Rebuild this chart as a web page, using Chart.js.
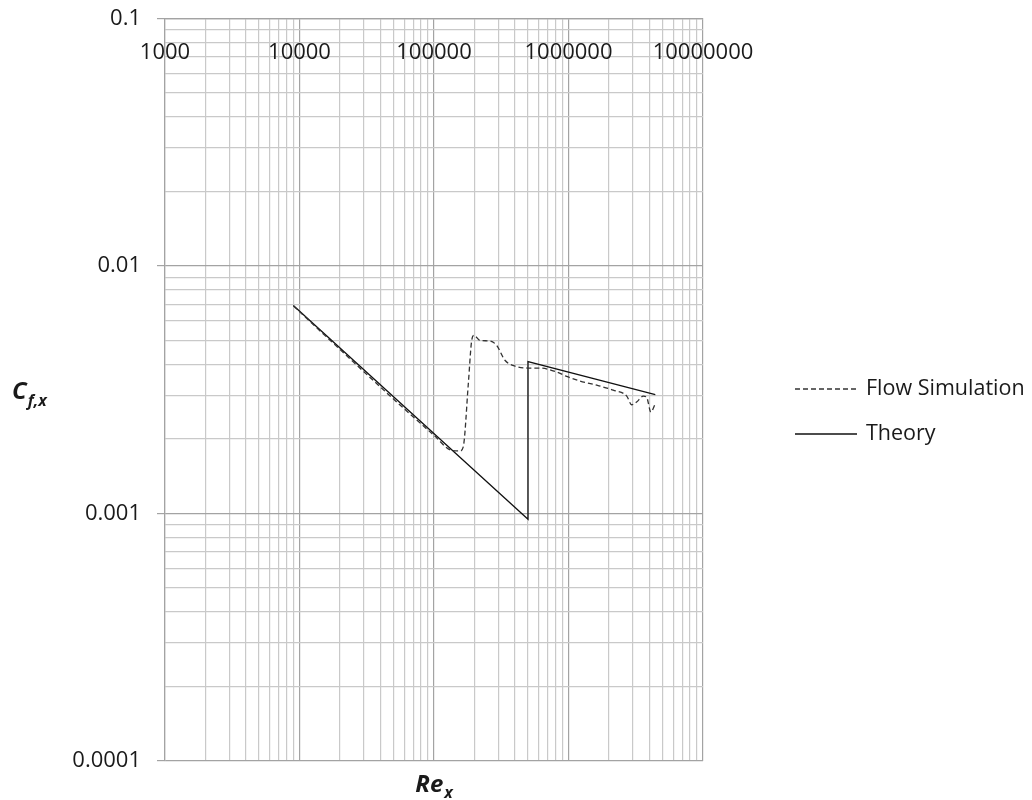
<!DOCTYPE html>
<html>
<head>
<meta charset="utf-8">
<script src="https://cdn.jsdelivr.net/npm/chart.js@4.4.1/dist/chart.umd.min.js"></script>
<style>
  html, body { margin: 0; padding: 0; background: #fff; }
  #wrap { width: 1032px; height: 800px; }
</style>
</head>
<body>
<div id="wrap"><canvas id="myChart"></canvas></div>
<script>
  // Re_x and local skin friction
  const flowRe = [9000, 20000, 50000, 100000, 135000, 156000, 165000, 180000, 190000, 198000, 220000, 260000, 292000, 337000, 400000, 500000, 614000, 817000, 970000, 1220000, 1620000, 2150000, 2710000, 2950000, 3210000, 3600000, 3810000, 4100000, 4420000];
  const flowCf = [0.0069, 0.0046, 0.00290, 0.00207, 0.00180, 0.00179, 0.00186, 0.00335, 0.00493, 0.00525, 0.00500, 0.00498, 0.00478, 0.00416, 0.00394, 0.00387, 0.00387, 0.00373, 0.00358, 0.00343, 0.00330, 0.00315, 0.00298, 0.00275, 0.00282, 0.00298, 0.00295, 0.00257, 0.00278];
  const theoryRe = [9000, 500000, 500000, 4420000];
  const theoryCf = [0.00693, 0.000948, 0.00411, 0.00302];

  const xTicks = [1000, 10000, 100000, 1000000, 10000000];
  const xTickLabels = ['1000', '10000', '100000', '1000000', '10000000'];
  const yTicks = [0.0001, 0.001, 0.01, 0.1];
  const yTickLabels = ['0.0001', '0.001', '0.01', '0.1'];

  const seriesNames = ['Flow Simulation', 'Theory'];

  const textColor = '#1a1a1a';
  const font = '"Open Sans", "DejaVu Sans", sans-serif';

  // majors plus 2..9 minor lines in every decade
  function logTicks(majors) {
    const out = [];
    for (let i = 0; i < majors.length; i++) {
      out.push({ value: majors[i], major: true });
      if (i < majors.length - 1) {
        for (let m = 2; m <= 9; m++) out.push({ value: majors[i] * m, major: false });
      }
    }
    return out;
  }

  function labelFor(value, list, labels) {
    const i = list.indexOf(value);
    return i >= 0 ? labels[i] : '';
  }

  const gridColor = c => (c.tick && c.tick.major) ? '#a3a3a3' : '#c9c9c9';

  const axisTitles = {
    id: 'axisTitles',
    afterDraw(chart) {
      const c = chart.ctx;
      const a = chart.chartArea;
      c.save();
      c.fillStyle = textColor;
      c.textBaseline = 'alphabetic';
      c.textAlign = 'left';

      // Re_x under the plot
      c.font = 'italic bold 24px ' + font;
      const wRe = c.measureText('Re').width;
      c.font = 'italic bold 16px ' + font;
      const wx = c.measureText('x').width;
      let x0 = (a.left + a.right) / 2 - (wRe + wx + 1) / 2;
      c.font = 'italic bold 24px ' + font;
      c.fillText('Re', x0, 792);
      c.font = 'italic bold 16px ' + font;
      c.fillText('x', x0 + wRe + 1, 798);

      // C_f,x on the left
      const yMid = (a.top + a.bottom) / 2;
      c.font = 'italic bold 24px ' + font;
      const wC = c.measureText('C').width;
      c.fillText('C', 12, yMid + 9);
      c.font = 'italic bold 16px ' + font;
      c.fillText('f,x', 12 + wC + 1, yMid + 16);
      c.restore();
    }
  };

  const sideLegend = {
    id: 'sideLegend',
    afterDraw(chart) {
      const c = chart.ctx;
      c.save();
      c.font = '21.5px ' + font;
      c.fillStyle = textColor;
      c.textBaseline = 'middle';
      c.textAlign = 'left';
      chart.data.datasets.forEach((ds, i) => {
        const y = 389 + i * 45;
        c.strokeStyle = ds.borderColor;
        c.lineWidth = ds.borderWidth;
        c.setLineDash(ds.borderDash || []);
        c.beginPath();
        c.moveTo(795, y);
        c.lineTo(857, y);
        c.stroke();
        c.setLineDash([]);
        c.fillText(ds.label, 866, y);
      });
      c.restore();
    }
  };

  const ctx = document.getElementById('myChart');

  new Chart(ctx, {
    type: 'scatter',
    data: {
      datasets: [{
        label: seriesNames[0],
        data: flowRe.map((x, i) => ({ x: x, y: flowCf[i] })),
        showLine: true,
        borderColor: '#333333',
        borderWidth: 1.3,
        borderDash: [5, 3],
        pointRadius: 0,
        cubicInterpolationMode: 'monotone'
      }, {
        label: seriesNames[1],
        data: theoryRe.map((x, i) => ({ x: x, y: theoryCf[i] })),
        showLine: true,
        borderColor: '#111111',
        borderWidth: 1.3,
        pointRadius: 0
      }]
    },
    options: {
      responsive: true,
      maintainAspectRatio: false,
      animation: false,
      layout: { padding: { left: 0, top: 0, right: 329, bottom: 39 } },
      plugins: {
        legend: { display: false },
        tooltip: { enabled: false }
      },
      scales: {
        x: {
          type: 'logarithmic',
          position: 'top',
          min: 1000,
          max: 10000000,
          afterBuildTicks: s => { s.ticks = logTicks(xTicks); },
          afterFit: s => { s.height = 18.5; s.paddingLeft = 0; s.paddingRight = 0; },
          grid: { color: gridColor, lineWidth: 1.2, drawTicks: false },
          border: { color: '#a3a3a3', width: 1.2 },
          ticks: {
            mirror: true,
            padding: 21,
            autoSkip: false,
            maxRotation: 0,
            color: textColor,
            font: { family: font, size: 22 },
            callback: v => labelFor(v, xTicks, xTickLabels)
          }
        },
        y: {
          type: 'logarithmic',
          min: 0.0001,
          max: 0.1,
          afterBuildTicks: s => { s.ticks = logTicks(yTicks); },
          afterFit: s => { s.width = 165; s.paddingTop = 0; s.paddingBottom = 0; },
          grid: {
            color: gridColor,
            lineWidth: 1.2,
            tickLength: 8,
            tickColor: c => (c.tick && c.tick.major) ? '#a3a3a3' : 'rgba(0,0,0,0)'
          },
          border: { color: '#a3a3a3', width: 1.2 },
          ticks: {
            padding: 16,
            autoSkip: false,
            color: textColor,
            font: { family: font, size: 22 },
            callback: v => labelFor(v, yTicks, yTickLabels)
          }
        }
      }
    },
    plugins: [axisTitles, sideLegend]
  });
</script>
</body>
</html>
